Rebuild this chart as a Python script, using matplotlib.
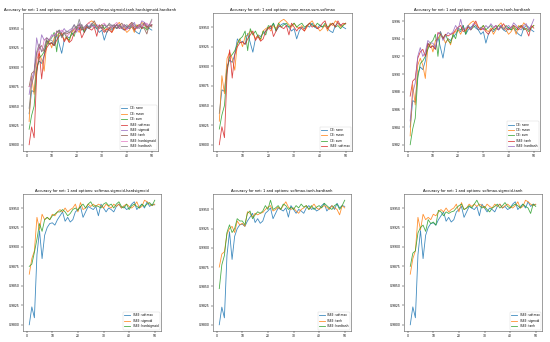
import matplotlib
matplotlib.use("Agg")
import matplotlib.pyplot as plt
from matplotlib.ticker import MultipleLocator, FormatStrFormatter

epochs = list(range(1, 51))

ce_none = [0.9840, 0.9870, 0.9868, 0.9900, 0.9908, 0.9905, 0.9915, 0.9935, 0.9930, 0.9932,
           0.9928, 0.9942, 0.9930, 0.9918, 0.9935, 0.9940, 0.9938, 0.9942, 0.9945, 0.9950,
           0.9948, 0.9955, 0.9945, 0.9950, 0.9953, 0.9955, 0.9952, 0.9950, 0.9945, 0.9948,
           0.9935, 0.9945, 0.9950, 0.9948, 0.9952, 0.9950, 0.9955, 0.9950, 0.9948, 0.9953,
           0.9950, 0.9952, 0.9948, 0.9945, 0.9943, 0.9952, 0.9955, 0.9953, 0.9950, 0.9948]
ce_mean = [0.9830, 0.9888, 0.9865, 0.9910, 0.9918, 0.9910, 0.9895, 0.9930, 0.9935, 0.9925,
           0.9938, 0.9940, 0.9945, 0.9942, 0.9935, 0.9940, 0.9933, 0.9945, 0.9948, 0.9950,
           0.9945, 0.9952, 0.9948, 0.9955, 0.9958, 0.9960, 0.9957, 0.9953, 0.9950, 0.9955,
           0.9950, 0.9948, 0.9952, 0.9945, 0.9950, 0.9955, 0.9958, 0.9952, 0.9950, 0.9945,
           0.9948, 0.9953, 0.9945, 0.9955, 0.9952, 0.9958, 0.9955, 0.9950, 0.9953, 0.9955]
ce_sum = [0.9820, 0.9838, 0.9850, 0.9895, 0.9912, 0.9915, 0.9920, 0.9928, 0.9935, 0.9938,
          0.9945, 0.9920, 0.9948, 0.9940, 0.9945, 0.9938, 0.9935, 0.9945, 0.9940, 0.9952,
          0.9950, 0.9955, 0.9945, 0.9955, 0.9950, 0.9953, 0.9955, 0.9950, 0.9952, 0.9955,
          0.9950, 0.9953, 0.9955, 0.9950, 0.9952, 0.9955, 0.9953, 0.9950, 0.9955, 0.9952,
          0.9950, 0.9955, 0.9950, 0.9953, 0.9955, 0.9950, 0.9952, 0.9948, 0.9952, 0.9955]
isbe_softmax = [0.9800, 0.9823, 0.9809, 0.9890, 0.9921, 0.9885, 0.9915, 0.9925, 0.9930, 0.9931,
                0.9928, 0.9935, 0.9940, 0.9945, 0.9933, 0.9938, 0.9932, 0.9935, 0.9945, 0.9948,
                0.9952, 0.9938, 0.9945, 0.9952, 0.9950, 0.9948, 0.9952, 0.9940, 0.9955, 0.9950,
                0.9945, 0.9950, 0.9948, 0.9945, 0.9952, 0.9955, 0.9950, 0.9952, 0.9948, 0.9950,
                0.9955, 0.9958, 0.9948, 0.9952, 0.9955, 0.9950, 0.9958, 0.9952, 0.9955, 0.9954]
isbe_sigmoid = [0.9865, 0.9885, 0.9895, 0.9938, 0.9922, 0.9942, 0.9935, 0.9938, 0.9935, 0.9942,
                0.9940, 0.9945, 0.9948, 0.9945, 0.9950, 0.9945, 0.9948, 0.9950, 0.9955, 0.9945,
                0.9957, 0.9948, 0.9950, 0.9955, 0.9952, 0.9955, 0.9952, 0.9955, 0.9953, 0.9950,
                0.9955, 0.9952, 0.9950, 0.9955, 0.9952, 0.9955, 0.9950, 0.9953, 0.9955, 0.9952,
                0.9950, 0.9953, 0.9958, 0.9950, 0.9952, 0.9960, 0.9958, 0.9955, 0.9953, 0.9955]
isbe_tanh = [0.9875, 0.9892, 0.9895, 0.9918, 0.9925, 0.9928, 0.9920, 0.9935, 0.9930, 0.9932,
             0.9928, 0.9947, 0.9945, 0.9940, 0.9945, 0.9943, 0.9945, 0.9946, 0.9950, 0.9953,
             0.9955, 0.9948, 0.9950, 0.9953, 0.9950, 0.9955, 0.9960, 0.9953, 0.9950, 0.9952,
             0.9948, 0.9945, 0.9950, 0.9952, 0.9955, 0.9950, 0.9953, 0.9957, 0.9952, 0.9950,
             0.9953, 0.9955, 0.9953, 0.9950, 0.9955, 0.9952, 0.9950, 0.9943, 0.9955, 0.9952]
isbe_hardsigmoid = [0.9875, 0.9878, 0.9893, 0.9910, 0.9930, 0.9920, 0.9935, 0.9938, 0.9935, 0.9940,
                    0.9942, 0.9945, 0.9945, 0.9948, 0.9945, 0.9940, 0.9943, 0.9948, 0.9950, 0.9947,
                    0.9952, 0.9955, 0.9950, 0.9955, 0.9958, 0.9952, 0.9953, 0.9952, 0.9950, 0.9955,
                    0.9957, 0.9953, 0.9955, 0.9950, 0.9955, 0.9958, 0.9952, 0.9950, 0.9955, 0.9948,
                    0.9953, 0.9955, 0.9952, 0.9950, 0.9955, 0.9952, 0.9955, 0.9957, 0.9953, 0.9960]
isbe_hardtanh = [0.9847, 0.9878, 0.9890, 0.9920, 0.9930, 0.9920, 0.9925, 0.9938, 0.9935, 0.9935,
                 0.9930, 0.9945, 0.9948, 0.9938, 0.9943, 0.9947, 0.9945, 0.9948, 0.9955, 0.9950,
                 0.9962, 0.9950, 0.9952, 0.9955, 0.9950, 0.9957, 0.9955, 0.9950, 0.9953, 0.9950,
                 0.9955, 0.9952, 0.9957, 0.9953, 0.9955, 0.9950, 0.9955, 0.9950, 0.9953, 0.9955,
                 0.9952, 0.9958, 0.9955, 0.9952, 0.9950, 0.9955, 0.9957, 0.9950, 0.9955, 0.9962]

series = {
    "CE: none": ce_none,
    "CE: mean": ce_mean,
    "CE: sum": ce_sum,
    "ISBE: softmax": isbe_softmax,
    "ISBE: sigmoid": isbe_sigmoid,
    "ISBE: tanh": isbe_tanh,
    "ISBE: hardsigmoid": isbe_hardsigmoid,
    "ISBE: hardtanh": isbe_hardtanh,
}

panels = [
    ("none-mean-sum-softmax-sigmoid-tanh-hardsigmoid-hardtanh",
     ["CE: none", "CE: mean", "CE: sum", "ISBE: softmax", "ISBE: sigmoid",
      "ISBE: tanh", "ISBE: hardsigmoid", "ISBE: hardtanh"]),
    ("none-mean-sum-softmax", ["CE: none", "CE: mean", "CE: sum", "ISBE: softmax"]),
    ("none-mean-sum-tanh-hardtanh", ["CE: none", "CE: mean", "CE: sum", "ISBE: tanh", "ISBE: hardtanh"]),
    ("softmax-sigmoid-hardsigmoid", ["ISBE: softmax", "ISBE: sigmoid", "ISBE: hardsigmoid"]),
    ("softmax-tanh-hardtanh", ["ISBE: softmax", "ISBE: tanh", "ISBE: hardtanh"]),
    ("softmax-sigmoid-tanh", ["ISBE: softmax", "ISBE: sigmoid", "ISBE: tanh"]),
]

# axes boxes in pixels (left, top, right, bottom) of the 550x342 picture
boxes = [(23, 13, 158, 151), (213, 13, 352, 151), (404, 13, 540, 151),
         (23, 194, 161, 331), (213, 194, 351, 331), (404, 194, 542, 331)]

W, H = 550, 342
fig = plt.figure(figsize=(5.5, 3.42), dpi=100)

for (opts, names), (l, t, r, b) in zip(panels, boxes):
    ax = fig.add_axes([l / W, (H - b) / H, (r - l) / W, (b - t) / H])
    for name in names:
        ax.plot(epochs, series[name], label=name, linewidth=0.6, alpha=0.85)
    ax.set_title("Accuracy for net: 1 and options: " + opts, fontsize=2.6, pad=1.5)
    if "CE: none" in names and "ISBE: softmax" not in names:
        ax.yaxis.set_major_locator(MultipleLocator(0.002))
        ax.yaxis.set_major_formatter(FormatStrFormatter("%.3f"))
    else:
        ax.yaxis.set_major_locator(MultipleLocator(0.0025))
        ax.yaxis.set_major_formatter(FormatStrFormatter("%.4f"))
    ax.tick_params(labelsize=2.2, length=1.2, width=0.3, pad=1)
    for s in ax.spines.values():
        s.set_linewidth(0.4)
        s.set_edgecolor("#555555")
    leg = ax.legend(loc="lower right", fontsize=2.1, handlelength=2, borderpad=0.4,
                    labelspacing=0.5)
    leg.get_frame().set_linewidth(0.3)

plt.savefig("out.png", dpi=100)
